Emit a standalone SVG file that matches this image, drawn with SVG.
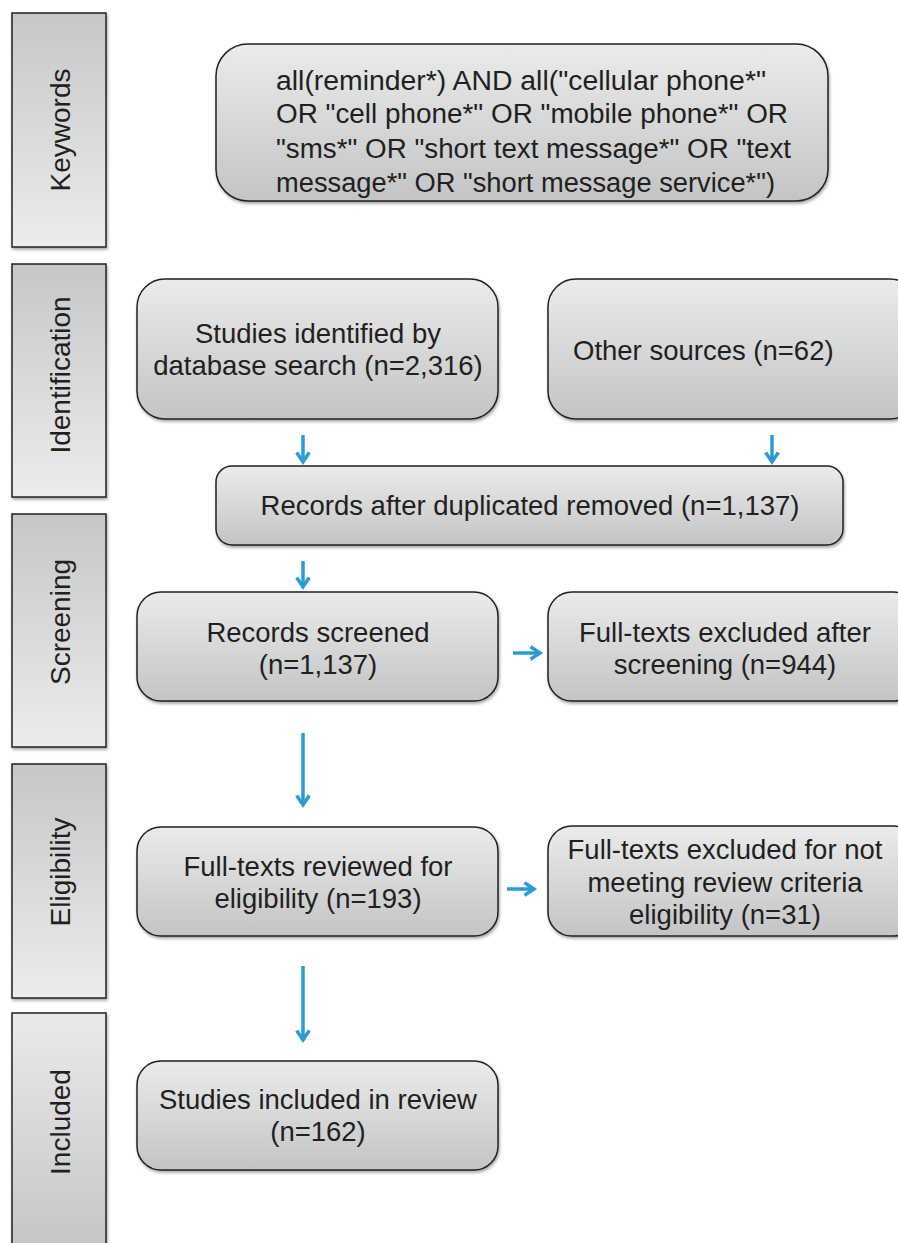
<svg xmlns="http://www.w3.org/2000/svg" width="898" height="1243" viewBox="0 0 898 1243">
<defs>
<linearGradient id="gBox" x1="0" y1="0" x2="0" y2="1">
<stop offset="0" stop-color="#eaebeb"/>
<stop offset="1" stop-color="#c3c4c5"/>
</linearGradient>
<linearGradient id="gSideDown" x1="0" y1="0" x2="0" y2="1">
<stop offset="0" stop-color="#c6c7c8"/>
<stop offset="1" stop-color="#ececec"/>
</linearGradient>
<linearGradient id="gSideUp" x1="0" y1="0" x2="0" y2="1">
<stop offset="0" stop-color="#eaeaea"/>
<stop offset="1" stop-color="#c4c5c6"/>
</linearGradient>
<filter id="sh" x="-5%" y="-5%" width="110%" height="115%">
<feDropShadow dx="1" dy="2" stdDeviation="1.5" flood-color="#000" flood-opacity="0.35"/>
</filter>
<marker id="ah" viewBox="0 0 10 10" refX="7" refY="5" markerWidth="4.5" markerHeight="4.5" orient="auto" markerUnits="strokeWidth">
<path d="M1,1 L7,5 L1,9" fill="none" stroke="#2a9bd3" stroke-width="2.2" stroke-linejoin="miter"/>
</marker>
</defs>
<style>
.box{fill:url(#gBox);stroke:#222;stroke-width:1.5;filter:url(#sh)}
.side{stroke:#222;stroke-width:1.5;filter:url(#sh)}
text{font-family:"Liberation Sans",Arial,sans-serif;font-size:27.5px;fill:#231f20}
.kw{font-size:27px}
.lab{font-size:28px}
.c{text-anchor:middle}
.conn{stroke:#2a9bd3;stroke-width:3.5;fill:none;marker-end:url(#ah)}
</style>
<rect width="898" height="1243" fill="#ffffff"/>

<g id="side-keywords">
<rect class="side" x="12" y="13" width="94" height="234" fill="url(#gSideDown)"/>
<text class="c lab" transform="translate(70,130) rotate(-90)">Keywords</text>
</g>
<g id="side-identification">
<rect class="side" x="12" y="264" width="94" height="233" fill="url(#gSideDown)"/>
<text class="c lab" transform="translate(70,375) rotate(-90)">Identification</text>
</g>
<g id="side-screening">
<rect class="side" x="12" y="514" width="94" height="233" fill="url(#gSideDown)"/>
<text class="c lab" transform="translate(70,622) rotate(-90)">Screening</text>
</g>
<g id="side-eligibility">
<rect class="side" x="12" y="764" width="94" height="234" fill="url(#gSideDown)"/>
<text class="c lab" transform="translate(70,872) rotate(-90)">Eligibility</text>
</g>
<g id="side-included">
<rect class="side" x="12" y="1013" width="94" height="240" fill="url(#gSideUp)"/>
<text class="c lab" transform="translate(70,1122) rotate(-90)">Included</text>
</g>

<g id="keywords">
<rect class="box" x="216" y="44" width="612" height="157" rx="32"/>
<text class="kw" x="276" y="90" textLength="490" lengthAdjust="spacingAndGlyphs">all(reminder*) AND all("cellular phone*"</text>
<text class="kw" x="276" y="123" textLength="512" lengthAdjust="spacingAndGlyphs">OR "cell phone*" OR "mobile phone*" OR</text>
<text class="kw" x="276" y="158" textLength="515" lengthAdjust="spacingAndGlyphs">"sms*" OR "short text message*" OR "text</text>
<text class="kw" x="276" y="192" textLength="499" lengthAdjust="spacingAndGlyphs">message*" OR "short message service*")</text>
</g>

<g id="studies-identified">
<rect class="box" x="137" y="279" width="361" height="140" rx="28"/>
<text class="c" x="318" y="343">Studies identified by</text>
<text class="c" x="318" y="375">database search (n=2,316)</text>
</g>

<g id="other-sources">
<rect class="box" x="548" y="279" width="370" height="140" rx="28"/>
<text x="573" y="360">Other sources (n=62)</text>
</g>

<g id="records-after-duplicates">
<rect class="box" x="216" y="466" width="627" height="79" rx="16"/>
<text class="c" x="530" y="515">Records after duplicated removed (n=1,137)</text>
</g>

<g id="records-screened">
<rect class="box" x="137" y="592" width="361" height="109" rx="24"/>
<text class="c" x="318" y="642">Records screened</text>
<text class="c" x="318" y="674">(n=1,137)</text>
</g>

<g id="excluded-screening">
<rect class="box" x="548" y="592" width="370" height="109" rx="24"/>
<text class="c" x="725" y="642">Full-texts excluded after</text>
<text class="c" x="725" y="674">screening (n=944)</text>
</g>

<g id="full-texts-reviewed">
<rect class="box" x="137" y="827" width="361" height="109" rx="24"/>
<text class="c" x="318" y="876">Full-texts reviewed for</text>
<text class="c" x="318" y="908">eligibility (n=193)</text>
</g>

<g id="excluded-eligibility">
<rect class="box" x="548" y="826" width="370" height="110" rx="24"/>
<text class="c" x="725" y="859">Full-texts excluded for not</text>
<text class="c" x="725" y="892">meeting review criteria</text>
<text class="c" x="725" y="924">eligibility (n=31)</text>
</g>

<g id="studies-included">
<rect class="box" x="137" y="1061" width="361" height="109" rx="24"/>
<text class="c" x="318" y="1109">Studies included in review</text>
<text class="c" x="318" y="1141">(n=162)</text>
</g>

<g id="connectors">
<line class="conn" x1="303" y1="435" x2="303" y2="462"/>
<line class="conn" x1="772" y1="435" x2="772" y2="462"/>
<line class="conn" x1="303" y1="561" x2="303" y2="587"/>
<line class="conn" x1="513" y1="653" x2="540" y2="653"/>
<line class="conn" x1="303" y1="733" x2="303" y2="805"/>
<line class="conn" x1="507" y1="889" x2="534" y2="889"/>
<line class="conn" x1="303" y1="966" x2="303" y2="1040"/>
</g>
</svg>
